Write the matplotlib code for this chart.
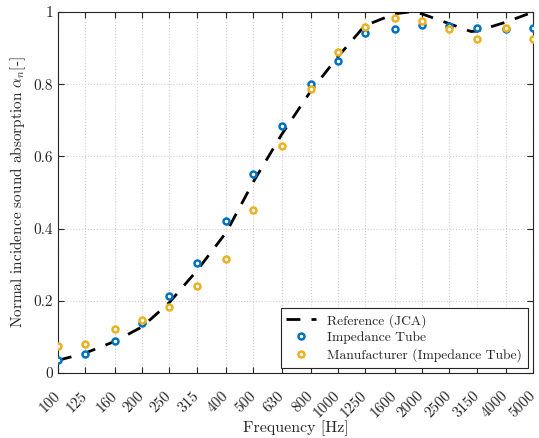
import matplotlib
matplotlib.use("Agg")
import matplotlib.pyplot as plt
from matplotlib.ticker import NullLocator

plt.rcParams['font.family'] = 'serif'
plt.rcParams['font.serif'] = ['cmr10']
plt.rcParams['mathtext.fontset'] = 'cm'
plt.rcParams['axes.formatter.use_mathtext'] = True

freqs = [100, 125, 160, 200, 250, 315, 400, 500, 630, 800, 1000, 1250,
         1600, 2000, 2500, 3150, 4000, 5000]
tick_labels = [str(f) for f in freqs]

tube = [0.035, 0.054, 0.089, 0.139, 0.212, 0.306, 0.422, 0.551, 0.684,
        0.800, 0.863, 0.941, 0.953, 0.965, 0.961, 0.955, 0.953, 0.957]
manuf = [0.074, 0.079, 0.121, 0.148, 0.183, 0.241, 0.317, 0.452, 0.630,
         0.786, 0.889, 0.958, 0.983, 0.974, 0.953, 0.925, 0.956, 0.926]

ref_f = [100, 125, 160, 200, 250, 315, 400, 500, 630, 800, 1000, 1250,
         1600, 1800, 2000, 2500, 3000, 3150, 4000, 5000]
ref_a = [0.035, 0.055, 0.088, 0.128, 0.195, 0.285, 0.39, 0.53, 0.66,
         0.78, 0.875, 0.962, 0.995, 1.0, 0.995, 0.968, 0.946, 0.947, 0.972, 1.0]

fig = plt.figure(figsize=(5.39, 4.38), dpi=100)
ax = fig.add_axes([0.1076, 0.1484, 0.8814, 0.8242])

txt = '#262626'
ax.plot(ref_f, ref_a, '--', color='black', lw=2.0, dashes=(5, 4),
        label='Reference (JCA)', zorder=3)
ax.plot(freqs, tube, 'o', ls='none', mfc='white', mec='#0072BD', mew=1.8,
        ms=4.3, label='Impedance Tube', zorder=4)
ax.plot(freqs, manuf, 'o', ls='none', mfc='white', mec='#EDB120', mew=1.8,
        ms=4.3, label='Manufacturer (Impedance Tube)', zorder=4)

ax.set_xscale('log')
ax.set_xlim(100, 5000)
ax.set_ylim(0, 1)
ax.set_xticks(freqs)
ax.set_xticklabels(tick_labels, rotation=45, ha='right', va='center',
                   rotation_mode='anchor')
ax.xaxis.set_minor_locator(NullLocator())
ax.set_yticks([0, 0.2, 0.4, 0.6, 0.8, 1.0])
ax.set_yticklabels(['0', '0.2', '0.4', '0.6', '0.8', '1'])

ax.grid(True, ls=':', color='#d0d0d0', lw=0.8)
ax.tick_params(direction='in', top=True, right=True, colors=txt,
               labelsize=11, length=4, width=0.8)
ax.tick_params(axis='x', pad=15)
for s in ax.spines.values():
    s.set_color(txt)
    s.set_linewidth(0.8)

ax.set_xlabel('Frequency [Hz]', fontsize=11.5, color=txt, labelpad=0)
ax.set_ylabel(r'Normal incidence sound absorption $\alpha_n$[-]', fontsize=11, color=txt)

leg = ax.legend(loc='lower right', fontsize=9.8, fancybox=False,
                edgecolor=txt, framealpha=1, handlelength=2.2,
                borderaxespad=0.4, labelspacing=0.3, numpoints=1)
leg.get_frame().set_linewidth(0.8)
for t in leg.get_texts():
    t.set_color(txt)

fig.savefig('out.png', dpi=100)
